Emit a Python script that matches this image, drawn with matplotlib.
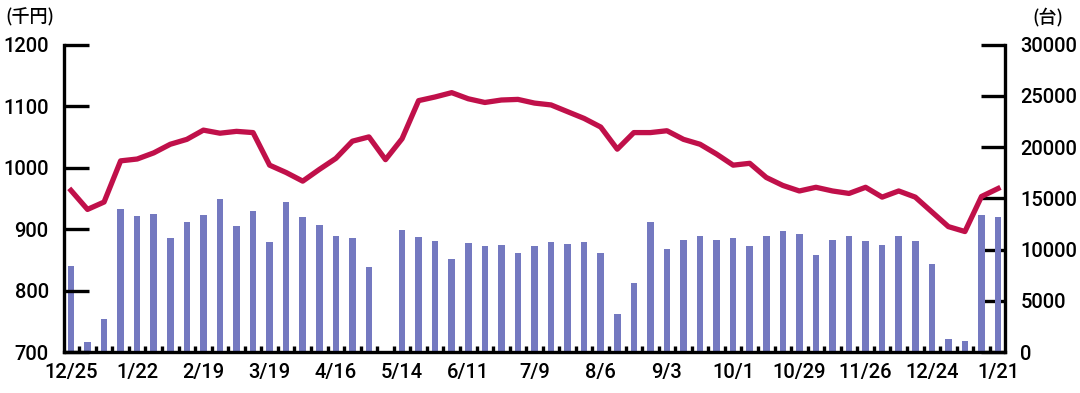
import numpy as np
import matplotlib
matplotlib.use("Agg")
import matplotlib.pyplot as plt
from matplotlib.ticker import FixedLocator

# weekly data, 12/25 -> 1/21 of next year
week_labels = ["12/25", "1/22", "2/19", "3/19", "4/16", "5/14", "6/11", "7/9",
               "8/6", "9/3", "10/1", "10/29", "11/26", "12/24", "1/21"]

# average price (千円), left axis
price = [963, 932, 944, 1011, 1014, 1024, 1038, 1046, 1061, 1056,
         1059, 1057, 1004, 992, 978, 997, 1015, 1043, 1050, 1013,
         1047, 1109, 1115, 1122, 1112, 1106, 1110, 1111, 1105, 1102,
         1091, 1080, 1066, 1030, 1057, 1057, 1060, 1046, 1038, 1022,
         1004, 1007, 984, 971, 962, 968, 962, 958, 968, 952,
         962, 952, 928, 904, 896, 953, 966]

# units sold (台), right axis; week 20 has no bar
units = [8400, 1000, 3200, 14000, 13300, 13500, 11150, 12700, 13400, 14950,
         12300, 13800, 10750, 14650, 13220, 12400, 11370, 11140, 8300, np.nan,
         11920, 11240, 10850, 9090, 10650, 10360, 10460, 9680, 10360, 10720,
         10550, 10720, 9680, 3710, 6740, 12670, 10030, 10940, 11330, 10940,
         11110, 10360, 11330, 11820, 11530, 9510, 10940, 11330, 10850, 10490,
         11330, 10850, 8600, 1300, 1075, 13390, 13220]

x = np.arange(len(price))

plt.rcParams['font.family'] = ['Roboto', 'DejaVu Sans']
plt.rcParams['font.weight'] = 'medium'

fig = plt.figure(figsize=(10.8, 3.93), dpi=100)
ax = fig.add_axes([64 / 1080, 1 - 352 / 393, (1005 - 64) / 1080, (352 - 44.7) / 393])
ax2 = ax.twinx()

# bars behind the line
ax2.bar(x, units, width=0.4, color="#7479c0", zorder=2)
ax.plot(x, price, color="#c0104a", lw=3.8, solid_joinstyle="round", zorder=3)
ax.set_zorder(ax2.get_zorder() + 1)
ax.patch.set_visible(False)

ax.set_xlim(-0.42, len(price) - 1 + 0.42)
ax.set_ylim(700, 1200)
ax2.set_ylim(0, 30000)
ax.set_yticks(np.arange(700, 1201, 100))
ax2.set_yticks(np.arange(0, 30001, 5000))

ax.set_xticks(x[::4])
ax.set_xticklabels(week_labels)
ax.xaxis.set_minor_locator(FixedLocator(x[:-1] + 0.5))

for a in (ax, ax2):
    a.spines["top"].set_visible(False)
    for s in ("left", "right", "bottom"):
        a.spines[s].set_linewidth(2.4)
ax.spines["right"].set_visible(False)
ax2.spines["left"].set_visible(False)
ax2.spines["bottom"].set_visible(False)

ax.tick_params(axis="y", direction="in", length=18, width=2.4, pad=11, labelsize=14.5)
ax2.tick_params(axis="y", direction="in", length=17, width=2.4, pad=11, labelsize=14.5)
ax.tick_params(axis="x", which="major", length=0, pad=8, labelsize=14.5)
ax.tick_params(axis="x", which="minor", direction="in", length=4, width=2.4)

fig.text(5 / 1080, 1 - 17 / 393, "(千円)", fontsize=13, va="center", ha="left",
         family=["Noto Sans CJK JP"], weight="medium")
fig.text(1063 / 1080, 1 - 17 / 393, "(台)", fontsize=13, va="center", ha="right",
         family=["Noto Sans CJK JP"], weight="medium")

fig.savefig("out.png", dpi=100)
